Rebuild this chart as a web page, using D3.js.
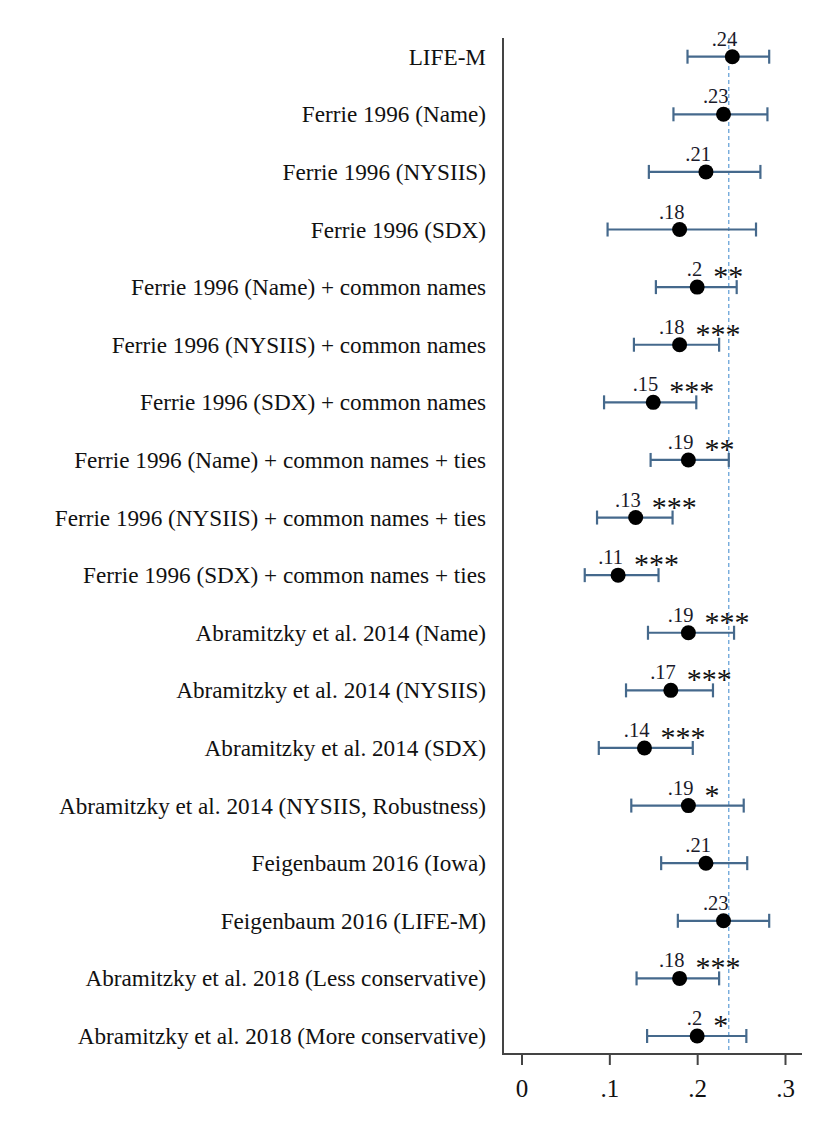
<!DOCTYPE html>
<html><head><meta charset="utf-8">
<script src="https://cdn.jsdelivr.net/npm/d3@7"></script>
<style>body{margin:0;background:#fff}svg{display:block}</style>
</head><body>
<svg id="c" width="827" height="1131"></svg>
<script>
const categories = [
  "LIFE-M",
  "Ferrie 1996 (Name)",
  "Ferrie 1996 (NYSIIS)",
  "Ferrie 1996 (SDX)",
  "Ferrie 1996 (Name) + common names",
  "Ferrie 1996 (NYSIIS) + common names",
  "Ferrie 1996 (SDX) + common names",
  "Ferrie 1996 (Name) + common names + ties",
  "Ferrie 1996 (NYSIIS) + common names + ties",
  "Ferrie 1996 (SDX) + common names + ties",
  "Abramitzky et al. 2014 (Name)",
  "Abramitzky et al. 2014 (NYSIIS)",
  "Abramitzky et al. 2014 (SDX)",
  "Abramitzky et al. 2014 (NYSIIS, Robustness)",
  "Feigenbaum 2016 (Iowa)",
  "Feigenbaum 2016 (LIFE-M)",
  "Abramitzky et al. 2018 (Less conservative)",
  "Abramitzky et al. 2018 (More conservative)"
];
const estimates = [0.24,0.23,0.21,0.18,0.20,0.18,0.15,0.19,0.13,0.11,0.19,0.17,0.14,0.19,0.21,0.23,0.18,0.20];
const ciLow  = [0.189,0.173,0.145,0.098,0.153,0.128,0.094,0.147,0.086,0.072,0.144,0.119,0.088,0.125,0.159,0.178,0.131,0.143];
const ciHigh = [0.282,0.280,0.272,0.267,0.245,0.225,0.199,0.236,0.172,0.156,0.242,0.218,0.195,0.253,0.257,0.282,0.225,0.256];
const pointLabels = [".24",".23",".21",".18",".2",".18",".15",".19",".13",".11",".19",".17",".14",".19",".21",".23",".18",".2"];
const stars = ["","","","","**","***","***","**","***","***","***","***","***","*","","","***","*"];
const refValue = 0.236;
const xTicks = [0,0.1,0.2,0.3];
const xTickLabels = ["0",".1",".2",".3"];

const svg = d3.select("#c");
const font = "'Liberation Serif','Times New Roman',serif";
const plotLeft = 503, plotRight = 802, plotTop = 38, plotBottom = 1054;

const x = d3.scaleLinear().domain([0,0.3]).range([521.5,785]);
const y = d3.scalePoint().domain(d3.range(categories.length)).range([56.7,1036]);

// reference dashed line
svg.append("line")
  .attr("x1", x(refValue)).attr("x2", x(refValue))
  .attr("y1", plotTop).attr("y2", plotBottom)
  .attr("stroke", "#5b9bd5").attr("stroke-width", 1.2)
  .attr("stroke-dasharray", "4,3");

const g = svg.append("g");
const rows = g.selectAll("g.row").data(categories.map((c,i)=>i)).join("g").attr("class","row");
const ciColor = "#45698c";
rows.append("line")
  .attr("x1", i=>x(ciLow[i])).attr("x2", i=>x(ciHigh[i]))
  .attr("y1", i=>y(i)).attr("y2", i=>y(i))
  .attr("stroke", ciColor).attr("stroke-width", 2.2);
rows.append("line")
  .attr("x1", i=>x(ciLow[i])).attr("x2", i=>x(ciLow[i]))
  .attr("y1", i=>y(i)-7).attr("y2", i=>y(i)+7)
  .attr("stroke", ciColor).attr("stroke-width", 2.2);
rows.append("line")
  .attr("x1", i=>x(ciHigh[i])).attr("x2", i=>x(ciHigh[i]))
  .attr("y1", i=>y(i)-7).attr("y2", i=>y(i)+7)
  .attr("stroke", ciColor).attr("stroke-width", 2.2);
rows.append("circle")
  .attr("cx", i=>x(estimates[i])).attr("cy", i=>y(i)).attr("r", 7.5)
  .attr("fill", "#000");
rows.append("text")
  .attr("x", i=>x(estimates[i])+5).attr("y", i=>y(i)-11)
  .attr("text-anchor","end")
  .attr("font-family", font).attr("font-size", 20.5).attr("fill","#1a1a2a")
  .text(i=>pointLabels[i]);
rows.append("text")
  .attr("x", i=>x(estimates[i])+16).attr("y", i=>y(i)-1)
  .attr("font-family", font).attr("font-size", 30).attr("fill","#111")
  .text(i=>stars[i]);

// category labels
svg.append("g").selectAll("text").data(categories).join("text")
  .attr("x", 486).attr("y", (d,i)=>y(i)+8)
  .attr("text-anchor","end")
  .attr("font-family", font).attr("font-size", 23.2).attr("fill","#111")
  .text(d=>d);

// axes
svg.append("line").attr("x1", plotLeft).attr("x2", plotLeft).attr("y1", plotTop).attr("y2", plotBottom+1)
  .attr("stroke","#444").attr("stroke-width",2);
svg.append("line").attr("x1", plotLeft-1).attr("x2", plotRight).attr("y1", plotBottom).attr("y2", plotBottom)
  .attr("stroke","#444").attr("stroke-width",2);

const xAxis = d3.axisBottom(x).tickValues(xTicks).tickFormat((d,i)=>xTickLabels[i]).tickSize(11).tickPadding(14);
const ax = svg.append("g").attr("transform", `translate(0,${plotBottom})`).call(xAxis);
ax.select(".domain").remove();
ax.selectAll(".tick line").attr("stroke","#444").attr("stroke-width",2);
ax.selectAll(".tick text").attr("font-family", font).attr("font-size", 25).attr("fill","#111");
</script>
</body></html>
